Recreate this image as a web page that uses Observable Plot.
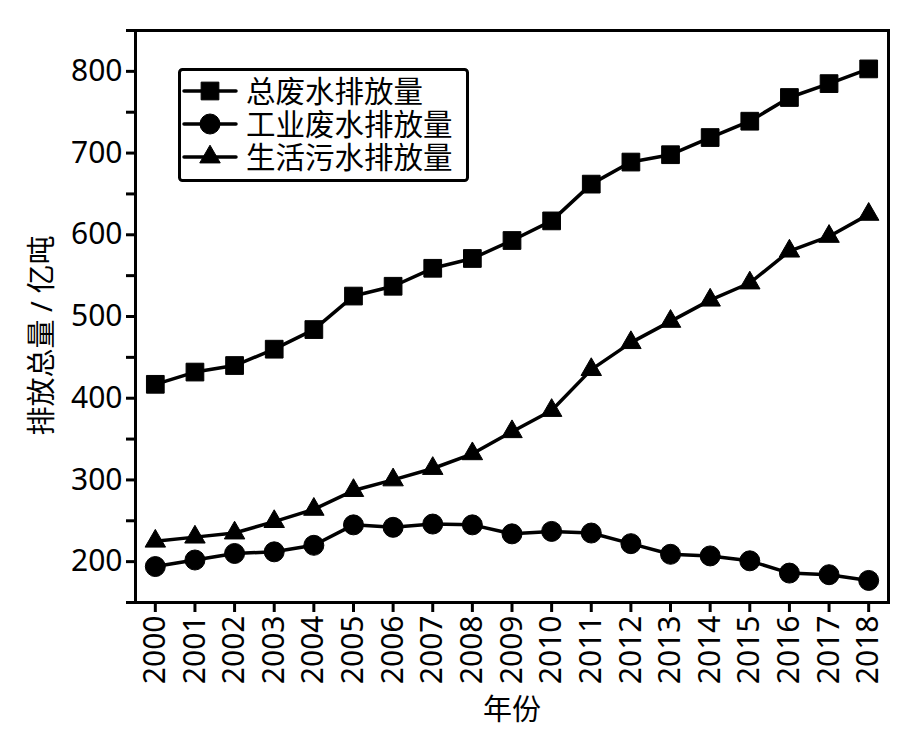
<!DOCTYPE html>
<html><head><meta charset="utf-8">
<script src="https://cdn.jsdelivr.net/npm/d3@7"></script>
<script src="https://cdn.jsdelivr.net/npm/@observablehq/plot@0.6"></script>
<style>
body{margin:0;background:#fff;}
#wrap{position:relative;width:912px;height:733px;}
#legend{position:absolute;left:0;top:0;pointer-events:none;}
</style></head><body><div id="wrap"></div>
<script>
const years = [2000,2001,2002,2003,2004,2005,2006,2007,2008,2009,2010,2011,2012,2013,2014,2015,2016,2017,2018];
const totalDischarge = [417,432,440,460,484,525,537,559,571,593,617,662,689,698,719,739,768,785,803];
const industrialDischarge = [194,202,210,212,220,245,242,246,245,234,237,235,222,209,207,201,186,184,177];
const domesticDischarge = [225,230,235,249,264,287,300,314,332,359,385,435,468,494,520,541,580,598,625];
const seriesNames = ["总废水排放量","工业废水排放量","生活污水排放量"];
const seriesSymbols = ["square","circle","triangle"];
const seriesRadius = [10,10,7.6];
const yMajorTicks = [200,300,400,500,600,700,800];
const yMinorTicks = [150,250,350,450,550,650,750,850];
const xLabel = "年份";
const yLabel = "排放总量 / 亿吨";

const FONT = "'Noto Sans','Noto Sans CJK SC',sans-serif";
const seriesValues = [totalDischarge, industrialDischarge, domesticDischarge];
const tables = seriesValues.map((vals, i) => vals.map((v, j) => ({year: years[j], value: v, series: seriesNames[i]})));

const marks = [
  Plot.axisY(yMinorTicks, {tickSize: 9, tickFormat: () => "", strokeWidth: 3, label: null}),
  Plot.axisY(yMajorTicks, {tickSize: 9, tickPadding: 4, fontSize: 30, strokeWidth: 3, label: null, tickFormat: d => String(d)}),
  Plot.axisX(years, {tickSize: 10, tickPadding: 3, tickRotate: -90, fontSize: 30, strokeWidth: 3, label: null, tickFormat: d => String(d)}),
  Plot.frame({stroke: "black", strokeWidth: 3}),
  Plot.text([yLabel], {frameAnchor: "left", textAnchor: "middle", lineAnchor: "middle", dx: -93, dy: 19, rotate: -90, fontSize: 29, fill: "black"}),
  Plot.text([xLabel], {frameAnchor: "bottom", textAnchor: "middle", lineAnchor: "middle", dy: 108, fontSize: 29, fill: "black"})
];
tables.forEach((t, i) => {
  marks.push(Plot.line(t, {x: "year", y: "value", stroke: "black", strokeWidth: 3.5}));
  marks.push(Plot.dot(t, {x: "year", y: "value", symbol: () => seriesSymbols[i], r: seriesRadius[i], fill: "black", stroke: "black", strokeWidth: 1, strokeLinejoin: "round"}));
});

const chart = Plot.plot({
  width: 912, height: 733,
  marginLeft: 135, marginRight: 24, marginTop: 30, marginBottom: 131,
  style: {fontFamily: FONT, color: "black", background: "white"},
  x: {type: "linear", domain: [1999.5, 2018.5]},
  y: {type: "linear", domain: [150, 850]},
  symbol: {type: "identity"},
  marks
});
document.getElementById("wrap").appendChild(chart);

// legend overlay
const lg = d3.select("#wrap").append("svg").attr("id", "legend").attr("width", 912).attr("height", 733);
lg.append("rect").attr("x", 179.5).attr("y", 69.5).attr("width", 288).attr("height", 111)
  .attr("rx", 3).attr("fill", "white").attr("stroke", "black").attr("stroke-width", 3);
const symMap = {square: d3.symbolSquare, circle: d3.symbolCircle, triangle: d3.symbolTriangle};
const rowY = [91, 124, 157];
seriesNames.forEach((name, i) => {
  const g = lg.append("g").attr("transform", `translate(0,${rowY[i]})`);
  g.append("line").attr("x1", 184).attr("x2", 236).attr("y1", 0).attr("y2", 0).attr("stroke", "black").attr("stroke-width", 3.5).attr("stroke-linecap", "round");
  g.append("path").attr("transform", "translate(210,0)")
    .attr("d", d3.symbol(symMap[seriesSymbols[i]], Math.PI * seriesRadius[i] * seriesRadius[i])())
    .attr("fill", "black").attr("stroke", "black").attr("stroke-width", 1).attr("stroke-linejoin", "round");
  g.append("text").attr("x", 246).attr("y", 0).attr("dy", "0.36em")
    .attr("font-family", FONT).attr("font-size", 29.5).attr("fill", "black").text(name);
});
</script></body></html>
